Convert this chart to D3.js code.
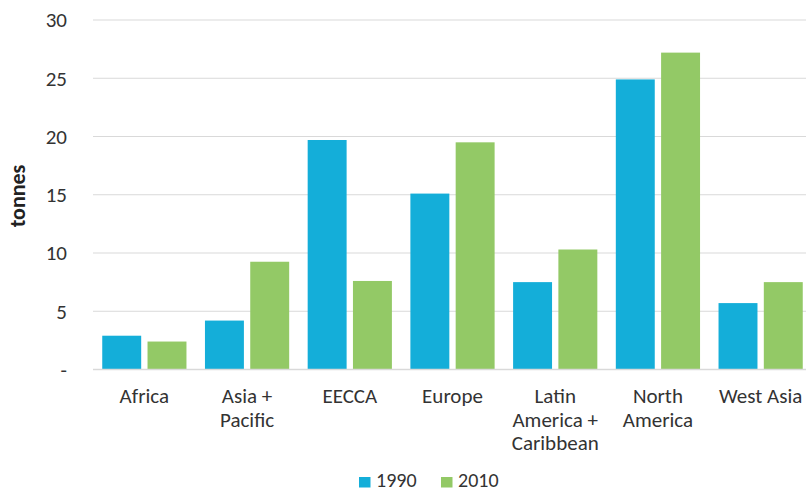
<!DOCTYPE html>
<html><head><meta charset="utf-8">
<script src="https://cdn.jsdelivr.net/npm/d3@7/dist/d3.min.js"></script>
<style>body{margin:0;background:#fff}svg{display:block}</style>
</head><body><svg id="c" width="806" height="492"></svg>
<script>
const categories = [["Africa"],["Asia +","Pacific"],["EECCA"],["Europe"],["Latin","America +","Caribbean"],["North","America"],["West Asia"]];
const seriesNames = ["1990","2010"];
const values1990 = [2.9, 4.2, 19.7, 15.1, 7.5, 24.9, 5.7];
const values2010 = [2.4, 9.25, 7.6, 19.5, 10.3, 27.2, 7.5];
const yTicks = [0,5,10,15,20,25,30];
const colors = ["#14AED9","#93C966"];
const font = "Carlito, Lato, 'Open Sans', sans-serif";

const svg = d3.select("#c");
const W = 806;
const y = d3.scaleLinear().domain([0,30]).range([369.5,20]);
const x = d3.scaleBand().domain(d3.range(categories.length)).range([93, 812]).paddingInner(0.18).paddingOuter(0.09);
const xs = d3.scaleBand().domain(seriesNames).range([0, x.bandwidth()]).paddingInner(0.14);

// grid
svg.append("g").selectAll("line").data(yTicks).join("line")
  .attr("x1",93).attr("x2",W).attr("y1",d=>y(d)).attr("y2",d=>y(d))
  .attr("stroke","#d9d9d9").attr("stroke-width",1.2);

// y labels
svg.append("g").selectAll("text").data(yTicks).join("text")
  .attr("x",67).attr("y",d=>y(d)).attr("dy","0.35em").attr("text-anchor","end")
  .attr("font-family",font).attr("font-size",21).attr("fill","#333")
  .text(d=>d===0?"-":d);

svg.append("text").attr("transform","translate(25,196) rotate(-90)")
  .attr("text-anchor","middle").attr("font-family",font).attr("font-size",22)
  .attr("font-weight","bold").attr("fill","#222").text("tonnes");

const data = [values1990, values2010];
data.forEach((vals,si)=>{
  svg.append("g").selectAll("rect").data(vals).join("rect")
    .attr("x",(d,i)=>x(i)+xs(seriesNames[si]))
    .attr("width",xs.bandwidth())
    .attr("y",d=>y(d)).attr("height",d=>y(0)-y(d))
    .attr("fill",colors[si]);
});

// axis line
svg.append("line").attr("x1",93).attr("x2",W).attr("y1",y(0)).attr("y2",y(0))
  .attr("stroke","#d9d9d9").attr("stroke-width",1.5);

// x labels
const xl = svg.append("g").selectAll("text").data(categories).join("text")
  .attr("text-anchor","middle").attr("font-family",font).attr("font-size",21).attr("fill","#333")
  .attr("transform",(d,i)=>`translate(${x(i)+x.bandwidth()/2},403)`);
xl.selectAll("tspan").data(d=>d).join("tspan").attr("x",0).attr("dy",(d,i)=>i===0?0:23.5).text(d=>d);

// legend
const leg = svg.append("g");
const legX = [359, 441];
seriesNames.forEach((s,i)=>{
  leg.append("rect").attr("x",legX[i]).attr("y",477).attr("width",11.5).attr("height",10.5).attr("fill",colors[i]);
  leg.append("text").attr("x",legX[i]+17).attr("y",487).attr("font-family",font).attr("font-size",20).attr("fill","#333").text(s);
});
</script></body></html>
